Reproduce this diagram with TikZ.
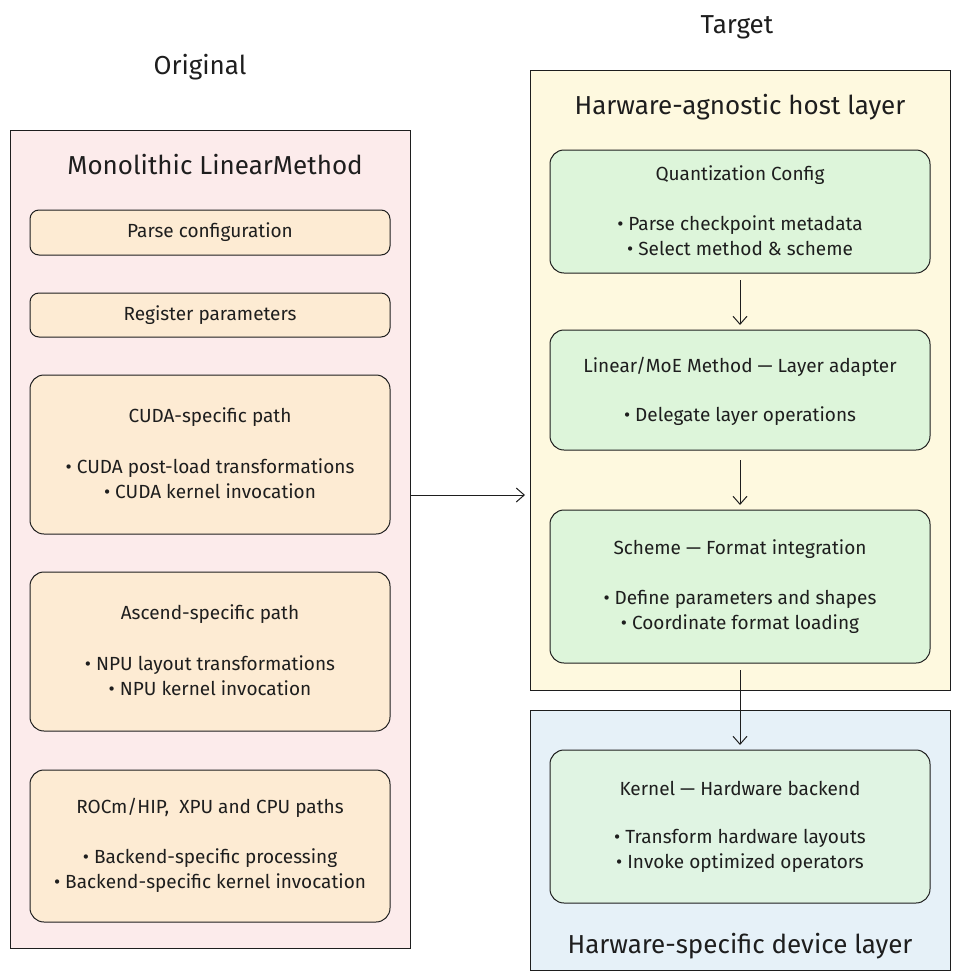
\documentclass[tikz,border=0pt]{standalone}
\usepackage{fontspec}
\setmainfont{Fira Sans}
\usetikzlibrary{arrows.meta}
\definecolor{pinkf}{HTML}{FCEBEB}
\definecolor{orf}{HTML}{FDEBD3}
\definecolor{yelf}{HTML}{FEF9DF}
\definecolor{grnf}{HTML}{DDF5DA}
\definecolor{bluf}{HTML}{E6F1F8}
\definecolor{ink}{HTML}{1E1E1E}
\begin{document}
\begin{tikzpicture}[x=1pt,y=-1pt,
  every node/.style={text=ink},
  outer/.style={draw=ink,line width=1pt},
  box/.style={draw=ink,line width=1pt,rounded corners=14pt},
  body/.style={font=\fontsize{19}{25}\selectfont,align=center},
  head/.style={font=\fontsize{26}{30}\selectfont},
  arr/.style={draw=ink,line width=1pt,-{Straight Barb[length=8pt,width=14pt]}}]
\useasboundingbox (0,0) rectangle (960,980);
\node[head] (to) at (200,67) {Original};
\node[head] (tt) at (737,27) {Target};
% left
\draw[outer,fill=pinkf] (10,130) rectangle (410,948);
\node (L) at (410,495) {};
\node[head] (lt) at (215,165) {Monolithic LinearMethod};
\draw[box,rounded corners=9pt,fill=orf] (30,210) rectangle (390,255);
\node[body] (p1) at (210,232) {Parse configuration};
\draw[box,rounded corners=9pt,fill=orf] (30,293) rectangle (390,337);
\node[body] (p2) at (210,315) {Register parameters};
\draw[box,fill=orf] (30,375) rectangle (390,534);
\node[body] (c1) at (210,417) {CUDA-specific path};
\node[body] (c2) at (210,479) {• CUDA post-load transformations\\• CUDA kernel invocation};
\draw[box,fill=orf] (30,572) rectangle (390,731);
\node[body] (a1) at (210,614) {Ascend-specific path};
\node[body] (a2) at (210,676) {• NPU layout transformations\\• NPU kernel invocation};
\draw[box,fill=orf] (30,770) rectangle (390,922);
\node[body] (r1) at (210,808) {ROCm/HIP,\ \ XPU and CPU paths};
\node[body] (r2) at (210,871) {• Backend-specific processing\\• Backend-specific kernel invocation};
% right
\draw[outer,fill=yelf] (530,70) rectangle (950,690);
\node (R) at (525,495) {};
\draw[arr] (L.center) -- (R.center);
\node[head] (rt) at (740,107) {Harware-agnostic host layer};
\draw[box,fill=grnf] (550,150) rectangle (930,273);
\node[body] (q1) at (740,175) {Quantization Config};
\node[body] (q2) at (740,236) {• Parse checkpoint metadata\\• Select method \& scheme};
\coordinate (qb) at (740,280); \coordinate (lt2) at (740,325);
\draw[arr] (qb) -- (lt2);
\draw[box,fill=grnf] (550,330) rectangle (930,450);
\node[body] (m1) at (740,367) {Linear/MoE Method — Layer adapter};
\node[body] (m2) at (740,416) {• Delegate layer operations};
\coordinate (mb) at (740,460); \coordinate (st) at (740,505);
\draw[arr] (mb) -- (st);
\draw[box,fill=grnf] (550,510) rectangle (930,663);
\node[body] (s1) at (740,549) {Scheme — Format integration};
\node[body] (s2) at (740,612) {• Define parameters and shapes\\• Coordinate format loading};
\draw[outer,fill=bluf] (530,710) rectangle (950,970);
\coordinate (sb) at (740,670); \coordinate (kt) at (740,745);
\draw[arr] (sb) -- (kt);
\draw[box,fill=grnf!70!bluf] (550,750) rectangle (930,903);
\node[body] (k1) at (740,788) {Kernel — Hardware backend};
\node[body] (k2) at (740,851) {• Transform hardware layouts\\• Invoke optimized operators};
\node[head] (bt) at (740,946) {Harware-specific device layer};
\end{tikzpicture}
\end{document}
